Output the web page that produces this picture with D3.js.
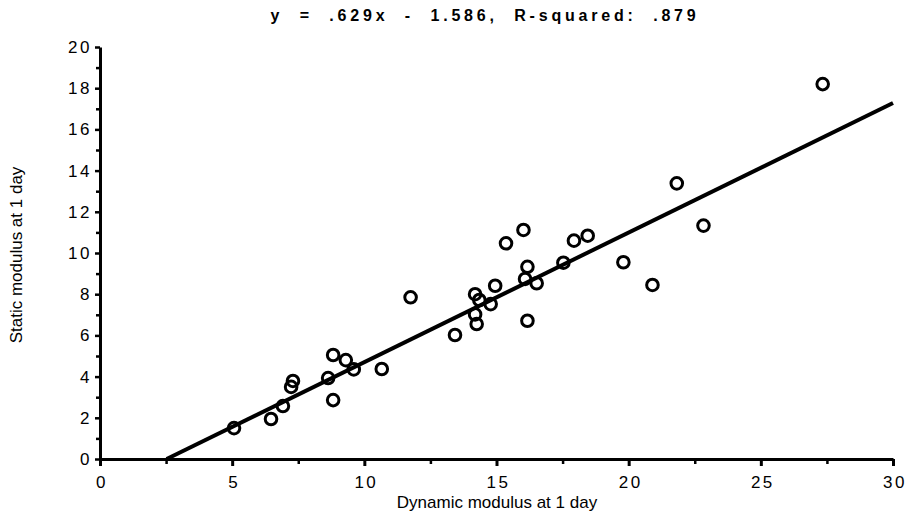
<!DOCTYPE html>
<html>
<head>
<meta charset="utf-8">
<script src="https://cdn.jsdelivr.net/npm/d3@7"></script>
<style>
  body { margin: 0; background: #fff; }
  svg { display: block; font-family: "Liberation Sans", Arial, sans-serif; }
  .tick text { font-size: 17px; letter-spacing: 2.5px; fill: #000; }
</style>
</head>
<body>
<svg width="908" height="517"></svg>
<script>
// data
var dynamicX = [5.07, 6.47, 6.92, 7.23, 7.3, 8.63, 8.82, 8.82, 9.3, 9.6, 10.66, 11.75,
                13.43, 14.25, 14.19, 14.19, 14.35, 14.78, 14.95, 15.36, 16.02, 16.17, 16.08,
                16.52, 16.17, 17.53, 17.93, 18.45, 19.8, 20.9, 21.82, 22.83, 27.34];
var staticY  = [1.5, 1.94, 2.57, 3.5, 3.79, 3.93, 5.05, 2.86, 4.8, 4.35, 4.37, 7.85,
                6.02, 6.55, 7.02, 8.0, 7.72, 7.52, 8.41, 10.47, 11.12, 9.33, 8.74,
                8.53, 6.71, 9.53, 10.6, 10.84, 9.55, 8.45, 13.38, 11.33, 18.2];
var slope = 0.629, intercept = -1.586;
var xTicks = [0, 5, 10, 15, 20, 25, 30];
var xMinor = [2.5, 7.5, 12.5, 17.5, 22.5, 27.5];
var yTicks = [0, 2, 4, 6, 8, 10, 12, 14, 16, 18, 20];
var yMinor = [1, 3, 5, 7, 9, 11, 13, 15, 17, 19];
var titleText = "y\u00a0\u00a0=\u00a0\u00a0.629x\u00a0\u00a0-\u00a0\u00a01.586,\u00a0\u00a0R-squared:\u00a0\u00a0.879";

(function(){
    var svg = d3.select("svg");
    var x = d3.scaleLinear().domain([0, 30]).range([100, 893]);
    var y = d3.scaleLinear().domain([0, 20]).range([459, 47]);

    // minor ticks first
    svg.append("g")
        .attr("transform", "translate(0,459)")
        .call(d3.axisBottom(x).tickValues(xMinor).tickSize(5).tickFormat(""))
        .call(g => g.select(".domain").remove())
        .selectAll("line").attr("stroke-width", 2.5);
    svg.append("g")
        .attr("transform", "translate(100,0)")
        .call(d3.axisLeft(y).tickValues(yMinor).tickSize(4).tickFormat(""))
        .call(g => g.select(".domain").remove())
        .selectAll("line").attr("stroke-width", 2.5);

    var xAxis = svg.append("g")
        .attr("transform", "translate(0,459)")
        .call(d3.axisBottom(x).tickValues(xTicks).tickSize(7).tickPadding(10).tickSizeOuter(0));
    xAxis.select(".domain").attr("stroke-width", 3);
    xAxis.selectAll(".tick line").attr("stroke-width", 3);
    xAxis.selectAll(".tick text").attr("dx", "1.5px");

    var yAxis = svg.append("g")
        .attr("transform", "translate(100,0)")
        .call(d3.axisLeft(y).tickValues(yTicks).tickSize(5).tickPadding(3).tickSizeOuter(0));
    yAxis.select(".domain").attr("stroke-width", 3);
    yAxis.selectAll(".tick line").attr("stroke-width", 2.5);

    // regression line, from where it crosses zero to the right edge
    var x0 = -intercept / slope;
    svg.append("line")
        .attr("x1", x(x0)).attr("y1", y(0))
        .attr("x2", x(30)).attr("y2", y(slope * 30 + intercept))
        .attr("stroke", "black")
        .attr("stroke-width", 4);

    svg.append("g")
        .selectAll("circle")
        .data(d3.range(dynamicX.length))
        .enter().append("circle")
        .attr("cx", function(i) { return x(dynamicX[i]); })
        .attr("cy", function(i) { return y(staticY[i]); })
        .attr("r", 5.8)
        .attr("fill", "none")
        .attr("stroke", "black")
        .attr("stroke-width", 3);

    svg.append("text")
        .attr("x", 485).attr("y", 21)
        .attr("text-anchor", "middle")
        .attr("font-size", 16)
        .attr("font-weight", "bold")
        .attr("letter-spacing", "3.8px")
        .text(titleText);

    svg.append("text")
        .attr("x", 497).attr("y", 508)
        .attr("text-anchor", "middle")
        .attr("font-size", 17)
        .text("Dynamic modulus at 1 day");

    svg.append("text")
        .attr("transform", "translate(22,255) rotate(-90)")
        .attr("text-anchor", "middle")
        .attr("font-size", 17)
        .text("Static modulus at 1 day");
})();
</script>
</body>
</html>
